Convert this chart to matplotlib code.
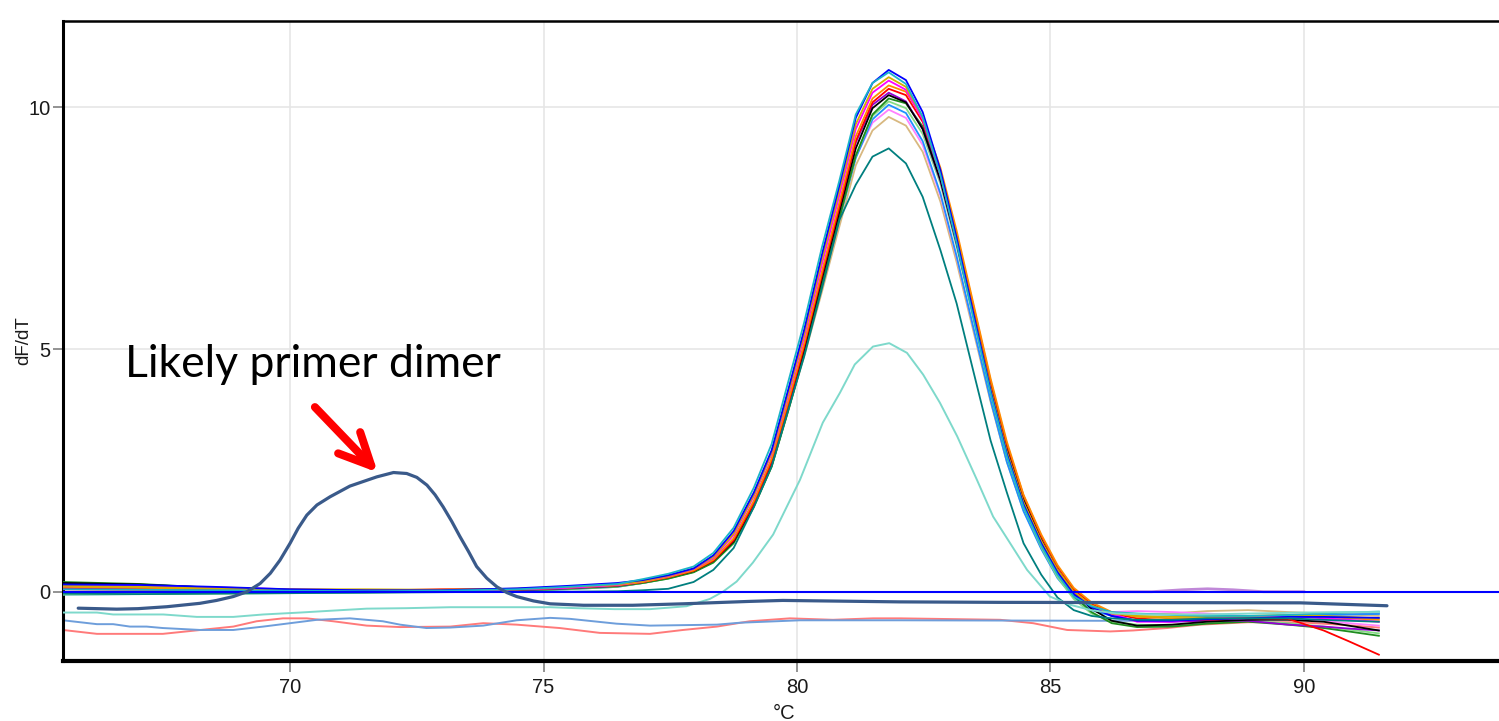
import matplotlib
matplotlib.use("Agg")
import matplotlib.pyplot as plt
from matplotlib.patches import ArrowStyle

plt.rcParams["font.family"] = ["Liberation Sans", "DejaVu Sans"]

# ---------------------------------------------------------------------------
# Melt-curve data: temperature (°C) and -dF/dT for each well
# ---------------------------------------------------------------------------
TEMPS = [65.52, 67.02, 68.51, 70.00, 71.49, 72.98, 74.48, 75.47, 76.46,
         76.96, 77.46, 77.96, 78.35, 78.75, 79.15, 79.50, 79.84, 80.14, 80.49,
         80.84, 81.16, 81.49, 81.81, 82.15, 82.48, 82.83, 83.15, 83.48, 83.82,
         84.14, 84.47, 84.82, 85.14,
         85.46, 85.81, 86.21, 86.71, 87.40, 88.09, 88.90, 89.69, 90.39, 90.88, 91.48]

well_cyan = [0.05, 0.04, 0.03, 0.02, 0.01, 0.02, 0.05, 0.10, 0.16,
             0.26, 0.37, 0.52, 0.80, 1.32, 2.15, 3.05, 4.38, 5.55, 7.10, 8.50, 9.85, 10.50, 10.72, 10.48, 9.80, 8.60, 7.20, 5.65, 4.10, 2.80, 1.75, 0.95, 0.35,
             -0.10, -0.30, -0.42, -0.45, -0.48, -0.50, -0.50, -0.48, -0.45, -0.43, -0.41]
well_blue = [0.15, 0.14, 0.10, 0.05, 0.03, 0.03, 0.07, 0.12, 0.18,
             0.24, 0.34, 0.48, 0.75, 1.25, 2.05, 2.92, 4.22, 5.40, 6.95, 8.40, 9.78, 10.50, 10.77, 10.56, 9.90, 8.70, 7.30, 5.75, 4.15, 2.85, 1.80, 1.00, 0.40,
             -0.05, -0.32, -0.50, -0.60, -0.60, -0.57, -0.55, -0.52, -0.52, -0.53, -0.54]
well_gold = [0.12, 0.10, 0.07, 0.05, 0.05, 0.04, 0.06, 0.10, 0.15,
             0.22, 0.33, 0.48, 0.72, 1.20, 2.00, 2.88, 4.15, 5.32, 6.85, 8.30, 9.65, 10.38, 10.62, 10.42, 9.80, 8.65, 7.30, 5.75, 4.20, 2.90, 1.85, 1.05, 0.45,
             0.00, -0.28, -0.45, -0.50, -0.52, -0.52, -0.50, -0.48, -0.50, -0.52, -0.55]
well_magenta = [0.12, 0.12, 0.09, 0.05, 0.03, 0.02, 0.05, 0.08, 0.14,
                0.22, 0.32, 0.47, 0.70, 1.17, 1.97, 2.85, 4.10, 5.25, 6.75, 8.20, 9.55, 10.30, 10.55, 10.36, 9.75, 8.60, 7.25, 5.70, 4.15, 2.85, 1.80, 1.00, 0.40,
                -0.05, -0.30, -0.45, -0.62, -0.62, -0.55, -0.50, -0.50, -0.55, -0.58, -0.62]
well_orange = [0.10, 0.08, 0.06, 0.04, 0.03, 0.02, 0.04, 0.08, 0.13,
               0.20, 0.30, 0.44, 0.66, 1.10, 1.88, 2.75, 3.98, 5.12, 6.60, 8.05, 9.40, 10.18, 10.45, 10.32, 9.78, 8.75, 7.45, 5.95, 4.40, 3.10, 2.00, 1.18, 0.55,
               0.08, -0.22, -0.42, -0.52, -0.55, -0.55, -0.52, -0.50, -0.52, -0.55, -0.58]
well_red = [0.05, 0.04, 0.03, 0.02, 0.02, 0.05, 0.06, 0.09, 0.14,
            0.20, 0.30, 0.43, 0.64, 1.06, 1.82, 2.68, 3.90, 5.05, 6.52, 7.95, 9.30, 10.10, 10.38, 10.25, 9.70, 8.65, 7.38, 5.90, 4.35, 3.05, 1.98, 1.15, 0.52,
            0.05, -0.25, -0.45, -0.55, -0.60, -0.58, -0.55, -0.56, -0.80, -1.02, -1.30]
well_black = [0.18, 0.15, 0.08, 0.04, 0.02, 0.02, 0.04, 0.08, 0.13,
              0.20, 0.30, 0.43, 0.64, 1.04, 1.80, 2.65, 3.88, 5.00, 6.45, 7.85, 9.15, 9.98, 10.25, 10.10, 9.55, 8.50, 7.20, 5.75, 4.25, 2.95, 1.90, 1.08, 0.45,
              0.00, -0.35, -0.60, -0.70, -0.68, -0.62, -0.58, -0.58, -0.62, -0.70, -0.80]
well_purple = [0.08, 0.06, 0.04, 0.02, 0.01, 0.01, 0.03, 0.07, 0.12,
               0.20, 0.30, 0.44, 0.66, 1.08, 1.85, 2.72, 3.95, 5.08, 6.55, 7.97, 9.27, 10.05, 10.30, 10.12, 9.55, 8.48, 7.18, 5.72, 4.20, 2.92, 1.88, 1.06, 0.45,
               0.00, -0.30, -0.50, -0.60, -0.62, -0.60, -0.60, -0.68, -0.72, -0.76, -0.80]
well_green = [0.20, 0.16, 0.08, 0.03, 0.00, 0.00, 0.02, 0.06, 0.11,
              0.18, 0.27, 0.40, 0.60, 1.00, 1.75, 2.58, 3.78, 4.90, 6.32, 7.72, 9.00, 9.85, 10.18, 10.08, 9.60, 8.60, 7.32, 5.85, 4.30, 2.98, 1.90, 1.05, 0.40,
              -0.08, -0.42, -0.65, -0.73, -0.72, -0.66, -0.62, -0.68, -0.75, -0.82, -0.91]
well_lightgreen = [-0.06, -0.05, -0.04, -0.03, -0.02, 0.00, 0.02, 0.05, 0.10,
                   0.18, 0.27, 0.41, 0.62, 1.02, 1.78, 2.60, 3.80, 4.92, 6.32, 7.72, 9.00, 9.82, 10.12, 9.98, 9.45, 8.42, 7.12, 5.65, 4.10, 2.80, 1.75, 0.92, 0.30,
                   -0.15, -0.45, -0.62, -0.68, -0.70, -0.65, -0.60, -0.65, -0.72, -0.78, -0.86]
well_dodger = [-0.06, -0.05, -0.03, -0.02, -0.01, 0.00, 0.02, 0.05, 0.10,
               0.18, 0.28, 0.41, 0.62, 1.02, 1.78, 2.60, 3.80, 4.90, 6.30, 7.70, 8.95, 9.75, 10.05, 9.88, 9.30, 8.22, 6.92, 5.45, 3.95, 2.68, 1.66, 0.88, 0.28,
               -0.12, -0.38, -0.50, -0.60, -0.58, -0.55, -0.52, -0.50, -0.48, -0.47, -0.46]
well_violet = [0.08, 0.06, 0.04, 0.03, 0.02, 0.02, 0.04, 0.08, 0.13,
               0.20, 0.30, 0.44, 0.66, 1.08, 1.86, 2.70, 3.92, 5.00, 6.38, 7.75, 8.98, 9.68, 9.95, 9.78, 9.22, 8.18, 6.90, 5.45, 3.98, 2.72, 1.70, 0.92, 0.30,
               -0.10, -0.32, -0.42, -0.40, -0.42, -0.45, -0.50, -0.55, -0.60, -0.65, -0.70]
well_tan = [0.12, 0.10, 0.06, 0.03, 0.02, 0.02, 0.03, 0.06, 0.11,
            0.18, 0.28, 0.41, 0.62, 1.02, 1.78, 2.58, 3.78, 4.85, 6.18, 7.55, 8.80, 9.52, 9.80, 9.62, 9.08, 8.05, 6.80, 5.38, 3.92, 2.68, 1.68, 0.90, 0.30,
            -0.08, -0.30, -0.45, -0.48, -0.45, -0.40, -0.38, -0.42, -0.45, -0.47, -0.50]
well_teal = [-0.04, -0.05, -0.04, -0.03, -0.02, -0.01, 0.00, 0.00, 0.01,
             0.03, 0.06, 0.20, 0.45, 0.90, 1.75, 2.59, 3.80, 4.85, 6.25, 7.68, 8.40, 8.98, 9.15, 8.84, 8.15, 7.05, 5.95, 4.55, 3.12, 2.05, 1.00, 0.35, -0.12,
             -0.38, -0.50, -0.55, -0.58, -0.58, -0.55, -0.55, -0.55, -0.58, -0.60, -0.62]

# low-yield well with its own temperature readings
aqua_temps = [65.52, 66.19, 66.51, 67.50, 68.16, 68.88, 69.47, 70.20, 70.85, 71.51,
              72.30, 73.16, 74.20, 75.13, 75.65, 76.40, 77.10, 77.82, 78.28, 78.54,
              78.81, 79.13, 79.53, 80.06, 80.51, 80.85, 81.14, 81.50, 81.82, 82.17,
              82.49, 82.82, 83.16, 83.55, 83.87, 84.20, 84.54, 84.99, 85.39, 85.80,
              86.30, 87.00, 88.00, 89.00, 90.00, 90.80, 91.48]
aqua_vals = [-0.43, -0.43, -0.47, -0.47, -0.52, -0.52, -0.47, -0.43, -0.39, -0.35,
             -0.34, -0.32, -0.32, -0.32, -0.34, -0.36, -0.36, -0.30, -0.15, 0.00,
             0.21, 0.60, 1.18, 2.31, 3.49, 4.11, 4.69, 5.06, 5.13, 4.93,
             4.48, 3.90, 3.21, 2.31, 1.55, 1.01, 0.45, -0.10, -0.27, -0.38,
             -0.45, -0.47, -0.47, -0.45, -0.43, -0.42, -0.42]

# no-template controls
ntc_blue_temps = [65.52, 66.19, 66.51, 66.84, 67.17, 67.49, 68.23, 68.88, 69.47, 70.00,
                  70.53, 71.18, 71.83, 72.17, 72.69, 73.16, 73.81, 74.47, 75.13, 75.52,
                  76.44, 77.10, 78.42, 78.88, 80.06, 82.03, 85.98, 87.00, 88.00, 89.00,
                  90.00, 91.48]
ntc_blue_vals = [-0.59, -0.67, -0.67, -0.72, -0.72, -0.75, -0.79, -0.79, -0.72, -0.65,
                 -0.58, -0.55, -0.61, -0.68, -0.75, -0.74, -0.70, -0.59, -0.54, -0.56,
                 -0.66, -0.70, -0.68, -0.64, -0.59, -0.59, -0.60, -0.60, -0.58, -0.55,
                 -0.50, -0.45]
ntc_red_temps = [65.52, 66.19, 67.49, 68.23, 68.88, 69.34, 69.86, 70.33, 70.85, 71.51,
                 72.17, 73.16, 73.81, 74.47, 75.32, 76.11, 77.10, 77.75, 78.42, 79.07,
                 79.86, 80.71, 81.50, 82.03, 84.01, 84.66, 85.33, 86.18, 86.63, 87.30,
                 87.95, 88.90, 89.90, 90.70, 91.48]
ntc_red_vals = [-0.79, -0.87, -0.87, -0.79, -0.72, -0.61, -0.55, -0.55, -0.61, -0.70,
                -0.73, -0.72, -0.65, -0.68, -0.75, -0.85, -0.87, -0.79, -0.72, -0.61,
                -0.55, -0.58, -0.55, -0.55, -0.58, -0.65, -0.79, -0.82, -0.80, -0.75,
                -0.68, -0.63, -0.63, -0.68, -0.74]
ntc_orchid_temps = [86.0, 87.0, 87.6, 88.1, 88.6, 89.2, 90.0]
ntc_orchid_vals = [0.0, 0.0, 0.04, 0.06, 0.04, 0.0, 0.0]

# well showing the primer-dimer peak
dimer_temps = [65.82, 66.58, 67.00, 67.57, 68.22, 68.55, 68.88, 69.15, 69.41, 69.61,
               69.80, 70.00, 70.16, 70.33, 70.53, 70.79, 71.18, 71.71, 72.04, 72.30,
               72.50, 72.70, 72.86, 73.02, 73.19, 73.35, 73.52, 73.68, 73.88, 74.08,
               74.28, 74.47, 74.80, 75.13, 75.79, 76.76, 77.75, 79.07, 79.72, 82.03,
               84.01, 89.93, 91.64]
dimer_vals = [-0.34, -0.36, -0.35, -0.31, -0.24, -0.18, -0.10, 0.00, 0.17, 0.38,
              0.65, 1.00, 1.31, 1.58, 1.79, 1.96, 2.18, 2.37, 2.46, 2.44,
              2.36, 2.20, 2.00, 1.75, 1.45, 1.14, 0.83, 0.52, 0.28, 0.10,
              -0.02, -0.10, -0.19, -0.25, -0.28, -0.28, -0.25, -0.20, -0.18, -0.21,
              -0.22, -0.23, -0.29]

THRESHOLD = 0.0

wells = [
    (well_tan, "#D8B880"), (well_violet, "#FF80FF"), (well_dodger, "#1E90FF"),
    (well_lightgreen, "#86DC86"), (well_green, "#1E8C1E"), (well_purple, "#9400D3"),
    (well_black, "#000000"), (well_red, "#FF0000"), (well_orange, "#FF8C00"),
    (well_magenta, "#FF00FF"), (well_gold, "#D2B000"), (well_blue, "#0000FF"),
    (well_cyan, "#1BB5C8"), (well_teal, "#007F7F"),
]

# ---------------------------------------------------------------------------
fig = plt.figure(figsize=(14.99, 7.21), dpi=100)
W, H = 1499, 721
ax = fig.add_axes([63 / W, (H - 660.5) / H, (W - 63) / W, (660.5 - 20.5) / H])

ax.plot(ntc_red_temps, ntc_red_vals, color="#FF7A7A", lw=1.4, zorder=2)
ax.plot(ntc_blue_temps, ntc_blue_vals, color="#6E9EDB", lw=1.4, zorder=2)
ax.plot(ntc_orchid_temps, ntc_orchid_vals, color="#C088D8", lw=2.0, zorder=2)

for vals, col in wells:
    ax.plot(TEMPS, vals, color=col, lw=1.3, zorder=3)

ax.plot(aqua_temps, aqua_vals, color="#7ED9CB", lw=1.4, zorder=3)

ax.axhline(THRESHOLD, color="#0000FF", lw=1.5, zorder=4)

ax.plot(dimer_temps, dimer_vals, color="#3A5A8A", lw=2.3, zorder=5,
        solid_capstyle="round", solid_joinstyle="round")

# annotation
ax.text(66.74, 4.44, "Likely primer dimer", fontsize=32, family="Lato",
        color="#000000", va="baseline", ha="left", zorder=6)
ax.annotate("", xy=(71.73, 2.46), xytext=(70.49, 3.81),
            arrowprops=dict(arrowstyle=ArrowStyle("->", head_length=2.3, head_width=1.1),
                            color="#FF0000", lw=5.8, shrinkA=0, shrinkB=0,
                            capstyle="round", joinstyle="round", mutation_scale=10),
            zorder=6)

# axes styling
ax.set_xlim(65.52, 93.85)
ax.set_ylim(-1.42, 11.79)
ax.set_xticks([70, 75, 80, 85, 90])
ax.set_yticks([0, 5, 10])
ax.grid(True, color="#E6E6E6", lw=1.2)
ax.set_axisbelow(True)

ax.spines["right"].set_visible(False)
ax.spines["left"].set_linewidth(2.2)
ax.spines["bottom"].set_linewidth(3.0)
ax.spines["top"].set_linewidth(1.8)

ax.tick_params(axis="x", length=8, width=1.2, color="#808080", pad=4.5,
               labelsize=14.5, labelcolor="#1A1A1A")
ax.tick_params(axis="y", length=7, width=1.2, color="#808080", pad=2,
               labelsize=14.5, labelcolor="#1A1A1A")

ax.set_ylabel("dF/dT", fontsize=13.5, color="#1A1A1A")
ax.yaxis.set_label_coords(-0.0215, 0.5)
ax.set_xlabel("°C", fontsize=14.5, color="#1A1A1A")
ax.xaxis.set_label_coords(0.502, -0.068)

fig.savefig("out.png", dpi=100)
